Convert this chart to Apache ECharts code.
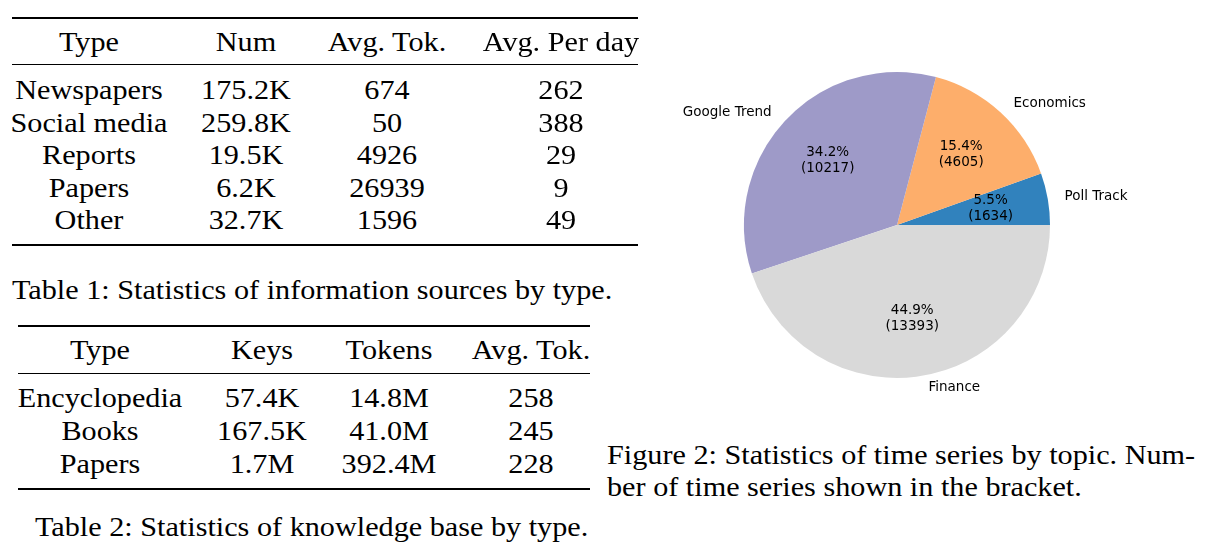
<!DOCTYPE html>
<html><head><meta charset="utf-8">
<script src="https://cdn.jsdelivr.net/npm/echarts@6/dist/echarts.min.js"></script>
<style>
body{margin:0;width:1216px;height:545px;background:#fff;position:relative;overflow:hidden;font-family:"Liberation Serif","Times New Roman",serif;color:#000}
.t{position:absolute;font-size:26.5px;white-space:nowrap;transform:translate(-50%,-50%) scaleX(1.14)}
.l{position:absolute;font-size:26.5px;white-space:nowrap;transform-origin:left center;transform:translateY(-50%) scaleX(1.14)}
.r{position:absolute;background:#000}
#chart{position:absolute;left:620px;top:0;width:596px;height:430px}
</style></head><body>
<div id="chart"></div>
<script>
// table 1
var t1Head = ['Type', 'Num', 'Avg. Tok.', 'Avg. Per day'];
var t1Rows = [
  ['Newspapers', '175.2K', '674', '262'],
  ['Social media', '259.8K', '50', '388'],
  ['Reports', '19.5K', '4926', '29'],
  ['Papers', '6.2K', '26939', '9'],
  ['Other', '32.7K', '1596', '49']
];
// table 2
var t2Head = ['Type', 'Keys', 'Tokens', 'Avg. Tok.'];
var t2Rows = [
  ['Encyclopedia', '57.4K', '14.8M', '258'],
  ['Books', '167.5K', '41.0M', '245'],
  ['Papers', '1.7M', '392.4M', '228']
];
// pie
var topics = ['Poll Track', 'Economics', 'Google Trend', 'Finance'];
var counts = [1634, 4605, 10217, 13393];
var colors = ['#3182bd', '#fdae6b', '#9e9ac8', '#d9d9d9'];

function txt(s, x, y, cls) {
  var d = document.createElement('div')
  d.className = cls || 't'
  d.style.left = x + 'px'; d.style.top = y + 'px'
  d.textContent = s
  document.body.appendChild(d)
}
function rule(x, y, w, h) {
  var d = document.createElement('div')
  d.className = 'r'
  d.style.left = x + 'px'; d.style.top = y + 'px'; d.style.width = w + 'px'; d.style.height = h + 'px'
  document.body.appendChild(d)
}
function table(head, rows, xs, x0, x1, top, headY, mid, rowY, rowH, bottom) {
  rule(x0, top, x1 - x0, 2)
  rule(x0, mid, x1 - x0, 1)
  rule(x0, bottom, x1 - x0, 2)
  head.forEach(function (h, i) { txt(h, xs[i], headY) })
  rows.forEach(function (r, j) {
    r.forEach(function (c, i) { txt(c, xs[i], rowY + j * rowH) })
  })
}
table(t1Head, t1Rows, [89, 246, 387, 561], 12, 638, 17, 42, 64, 90, 32.6, 244)
txt('Table 1: Statistics of information sources by type.', 12, 290, 'l')
table(t2Head, t2Rows, [100, 262, 389, 531], 18, 590, 325, 350, 373, 398, 33, 488)
txt('Table 2: Statistics of knowledge base by type.', 35, 527, 'l')
txt('Figure 2: Statistics of time series by topic. Num-', 607, 455, 'l')
txt('ber of time series shown in the bracket.', 607, 487, 'l')

var total = counts.reduce(function (a, b) { return a + b }, 0)
var data = topics.map(function (n, i) {
  return { name: n, value: counts[i], itemStyle: { color: colors[i] } }
})
function ghost() {
  return data.map(function (d) { return { name: d.name, value: d.value, itemStyle: { color: 'rgba(0,0,0,0)' } } })
}
var font = { color: '#000', fontSize: 13.5, fontFamily: 'DejaVu Sans' }
var chart = echarts.init(document.getElementById('chart'))
chart.setOption({
  animation: false,
  series: [{
    type: 'pie', center: [277, 225], radius: [0, 153],
    startAngle: 0, clockwise: false, data: data, silent: true,
    label: { show: false }, labelLine: { show: false }
  }, {
    // transparent ring so inside labels sit at 0.6 of the radius
    type: 'pie', center: [277, 225], radius: [0, 184],
    startAngle: 0, clockwise: false, silent: true, data: ghost(),
    label: Object.assign({
      position: 'inside', lineHeight: 16,
      formatter: function (p) { return (p.value / total * 100).toFixed(1) + '%\n(' + p.value + ')' }
    }, font)
  }, {
    type: 'pie', center: [277, 225], radius: [0, 153],
    startAngle: 0, clockwise: false, silent: true, data: ghost(),
    label: Object.assign({ position: 'outside', formatter: '{b}' }, font),
    labelLine: { show: false, length: 12, length2: 0 }
  }]
})
</script>
</body></html>
